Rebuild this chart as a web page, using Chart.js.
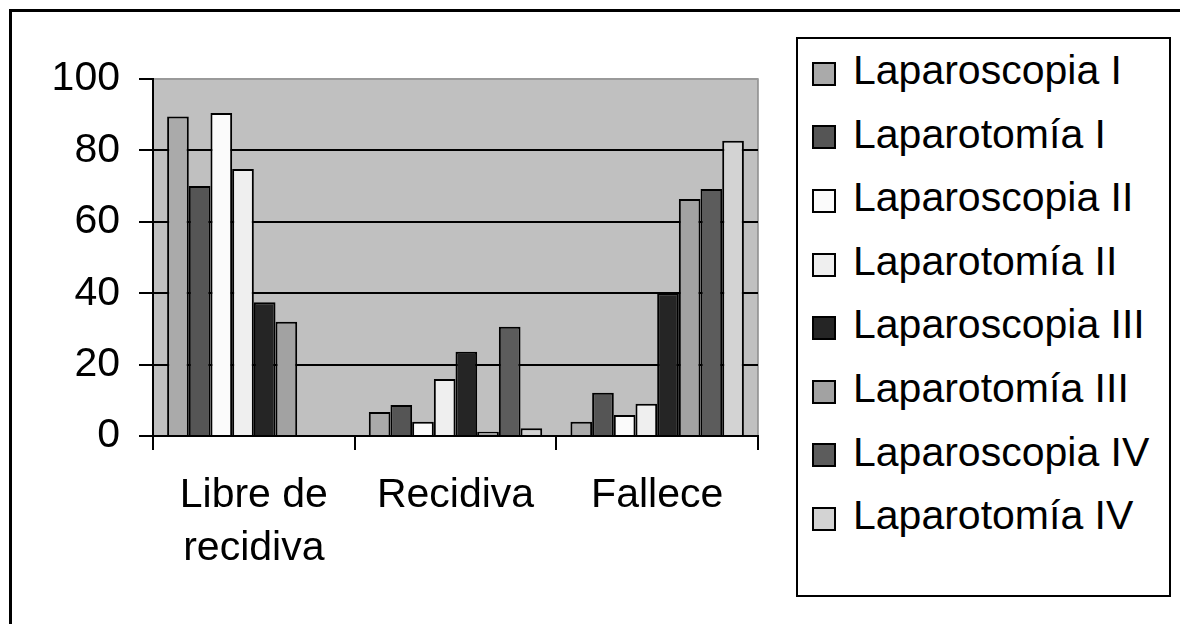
<!DOCTYPE html>
<html>
<head>
<meta charset="utf-8">
<script src="https://cdn.jsdelivr.net/npm/chart.js@4"></script>
<style>
  html, body { margin: 0; padding: 0; background: #fff; }
  #wrap { position: relative; width: 1180px; height: 624px; overflow: hidden; }
  #frame { position: absolute; left: 9px; top: 9px; width: 1300px; height: 800px; border: 3px solid #000; }
  #myChart { position: absolute; left: 0; top: 0; }
  #legend {
    position: absolute; left: 796px; top: 37px; width: 375px; height: 560px;
    box-sizing: border-box; border: 2px solid #000; background: #fff;
    font-family: 'Liberation Sans', Arial, sans-serif; font-size: 41px; color: #000;
  }
  #legend ul { list-style: none; margin: 0; padding: 0; }
  #legend li { height: 63.6px; line-height: 63.6px; display: flex; align-items: center; white-space: nowrap; }
  #legend .sw {
    display: inline-block; width: 24px; height: 24px; box-sizing: border-box;
    border: 2px solid #000; margin-left: 14px; margin-right: 17px; position: relative; top: 3px;
  }
</style>
</head>
<body>
<div id="wrap">
  <div id="frame"></div>
  <canvas id="myChart" width="1180" height="624"></canvas>
  <div id="legend"></div>
</div>
<script>
// categories and series
const categories = [['Libre de', 'recidiva'], 'Recidiva', 'Fallece'];
const seriesNames = ['Laparoscopia I', 'Laparotomía I', 'Laparoscopia II', 'Laparotomía II',
                     'Laparoscopia III', 'Laparotomía III', 'Laparoscopia IV', 'Laparotomía IV'];
const lapI    = [89.5, 6.7, 4];
const lapotI  = [70, 8.7, 12.1];
const lapII   = [90.5, 4, 5.9];
const lapotII = [74.8, 16, 9];
const lapIII  = [37.5, 23.6, 40];
const lapotIII = [32, 1.2, 66.4];
const lapIV   = [0, 30.6, 69.2];
const lapotIV = [0, 2.2, 82.7];
const yTicks = [0, 20, 40, 60, 80, 100];

const values = [lapI, lapotI, lapII, lapotII, lapIII, lapotIII, lapIV, lapotIV];
const fills = ['#aaaaaa', '#555555', '#fbfbfb', '#efefef', '#252525', '#a2a2a2', '#5c5c5c', '#d3d3d3'];
const FONT = 'Liberation Sans, Arial, sans-serif';

const plotBg = {
    id: 'plotBg',
    beforeDraw(chart) {
        const {ctx, chartArea: a} = chart;
        ctx.save();
        ctx.fillStyle = '#c0c0c0';
        ctx.fillRect(a.left, a.top, a.right - a.left, a.bottom - a.top);
        ctx.strokeStyle = '#8a8a8a';
        ctx.lineWidth = 1.5;
        ctx.beginPath();
        ctx.moveTo(a.left, a.top);
        ctx.lineTo(a.right, a.top);
        ctx.lineTo(a.right, a.bottom);
        ctx.stroke();
        ctx.restore();
    }
};

// legend built as html from the chart's own legend items
const htmlLegend = {
    id: 'htmlLegend',
    afterUpdate(chart) {
        const box = document.getElementById('legend');
        box.innerHTML = '';
        const ul = document.createElement('ul');
        const items = chart.options.plugins.legend.labels.generateLabels(chart);
        items.forEach(item => {
            const li = document.createElement('li');
            const sw = document.createElement('span');
            sw.className = 'sw';
            sw.style.background = item.fillStyle;
            li.appendChild(sw);
            li.appendChild(document.createTextNode(item.text));
            ul.appendChild(li);
        });
        box.appendChild(ul);
    }
};

new Chart(document.getElementById('myChart').getContext('2d'), {
    type: 'bar',
    data: {
        labels: categories,
        datasets: values.map((v, i) => ({
            label: seriesNames[i],
            data: v,
            backgroundColor: fills[i],
            borderColor: '#000',
            borderWidth: 2,
            barPercentage: 1,
            categoryPercentage: 0.86
        }))
    },
    options: {
        responsive: false,
        animation: false,
        layout: { padding: { top: 79, left: 10, right: 422, bottom: 0 } },
        plugins: {
            legend: { display: false },
            tooltip: { enabled: false }
        },
        scales: {
            x: {
                grid: {
                    display: true,
                    drawOnChartArea: false,
                    drawTicks: true,
                    tickLength: 14,
                    offset: true,
                    color: '#000',
                    lineWidth: 2
                },
                border: { display: true, color: '#000', width: 2 },
                ticks: {
                    color: '#000',
                    padding: 19,
                    maxRotation: 0,
                    font: { size: 41, family: FONT, lineHeight: 1.3 }
                },
                afterFit(s) { s.height = 188; }
            },
            y: {
                min: 0,
                max: 100,
                afterBuildTicks(s) { s.ticks = yTicks.map(v => ({ value: v })); },
                grid: {
                    color: c => (c.tick && c.tick.value === 100) ? '#9a9a9a' : '#000',
                    tickColor: '#000',
                    lineWidth: 2,
                    tickLength: 14
                },
                border: { display: true, color: '#000', width: 2 },
                ticks: {
                    color: '#000',
                    padding: 19,
                    font: { size: 41, family: FONT }
                },
                afterFit(s) { s.width = 143; }
            }
        }
    },
    plugins: [plotBg, htmlLegend]
});
</script>
</body>
</html>
